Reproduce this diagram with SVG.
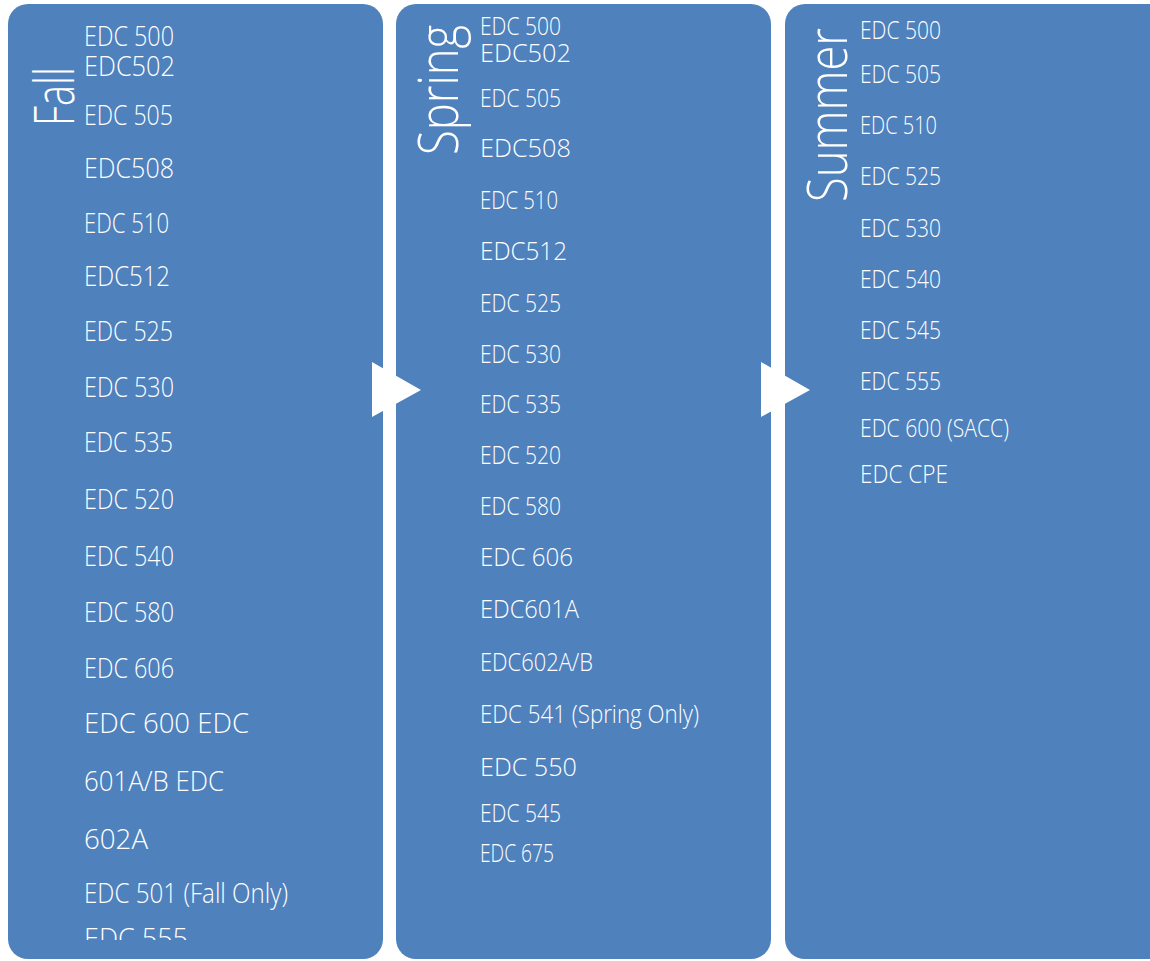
<svg xmlns="http://www.w3.org/2000/svg" width="1150" height="961" viewBox="0 0 1150 961">
<style>
.box{fill:#4F81BD}
.c{fill:#FFFFFF;font-family:"Open Sans","Noto Sans","Liberation Sans",sans-serif;font-size:28px;font-weight:300}
.s{font-size:26px}
.t{fill:#FFFFFF;font-family:"Open Sans","Noto Sans","Liberation Sans",sans-serif;font-size:56px;font-weight:300}
.arrow{fill:#FFFFFF}
</style>
<defs>
<clipPath id="fallClip"><rect x="8" y="4" width="375" height="936"/></clipPath>
</defs>
<rect x="0" y="0" width="1150" height="961" fill="#FFFFFF"/>
<g id="fall">
<rect class="box" x="8" y="4" width="375" height="955" rx="20"/>
<text class="t" transform="translate(74,126) rotate(-90)" textLength="59" lengthAdjust="spacingAndGlyphs">Fall</text>
<g clip-path="url(#fallClip)">
<text class="c" x="84" y="46" textLength="90" lengthAdjust="spacingAndGlyphs">EDC 500</text>
<text class="c" x="84" y="76" textLength="91" lengthAdjust="spacingAndGlyphs">EDC502</text>
<text class="c" x="84" y="125" textLength="89" lengthAdjust="spacingAndGlyphs">EDC 505</text>
<text class="c" x="84" y="178" textLength="90" lengthAdjust="spacingAndGlyphs">EDC508</text>
<text class="c" x="84" y="233" textLength="85" lengthAdjust="spacingAndGlyphs">EDC 510</text>
<text class="c" x="84" y="286" textLength="86" lengthAdjust="spacingAndGlyphs">EDC512</text>
<text class="c" x="84" y="341" textLength="89" lengthAdjust="spacingAndGlyphs">EDC 525</text>
<text class="c" x="84" y="397" textLength="90" lengthAdjust="spacingAndGlyphs">EDC 530</text>
<text class="c" x="84" y="452" textLength="89" lengthAdjust="spacingAndGlyphs">EDC 535</text>
<text class="c" x="84" y="509" textLength="90" lengthAdjust="spacingAndGlyphs">EDC 520</text>
<text class="c" x="84" y="566" textLength="90" lengthAdjust="spacingAndGlyphs">EDC 540</text>
<text class="c" x="84" y="622" textLength="90" lengthAdjust="spacingAndGlyphs">EDC 580</text>
<text class="c" x="84" y="678" textLength="90" lengthAdjust="spacingAndGlyphs">EDC 606</text>
<text class="c" x="84" y="733" textLength="165" lengthAdjust="spacingAndGlyphs">EDC 600 EDC</text>
<text class="c" x="84" y="791" textLength="140" lengthAdjust="spacingAndGlyphs">601A/B EDC</text>
<text class="c" x="84" y="849" textLength="64" lengthAdjust="spacingAndGlyphs">602A</text>
<text class="c" x="84" y="903" textLength="204" lengthAdjust="spacingAndGlyphs">EDC 501 (Fall Only)</text>
<text class="c" x="84" y="948" textLength="104" lengthAdjust="spacingAndGlyphs">EDC 555</text>
</g>
</g>
<g id="spring">
<rect class="box" x="396" y="4" width="375" height="955" rx="20"/>
<text class="t" transform="translate(458,155) rotate(-90)" textLength="130" lengthAdjust="spacingAndGlyphs">Spring</text>
<text class="c s" x="480" y="35" textLength="81" lengthAdjust="spacingAndGlyphs">EDC 500</text>
<text class="c s" x="480" y="62" textLength="91" lengthAdjust="spacingAndGlyphs">EDC502</text>
<text class="c s" x="480" y="107" textLength="81" lengthAdjust="spacingAndGlyphs">EDC 505</text>
<text class="c s" x="480" y="157" textLength="91" lengthAdjust="spacingAndGlyphs">EDC508</text>
<text class="c s" x="480" y="209" textLength="78" lengthAdjust="spacingAndGlyphs">EDC 510</text>
<text class="c s" x="480" y="260" textLength="87" lengthAdjust="spacingAndGlyphs">EDC512</text>
<text class="c s" x="480" y="312" textLength="81" lengthAdjust="spacingAndGlyphs">EDC 525</text>
<text class="c s" x="480" y="363" textLength="81" lengthAdjust="spacingAndGlyphs">EDC 530</text>
<text class="c s" x="480" y="413" textLength="81" lengthAdjust="spacingAndGlyphs">EDC 535</text>
<text class="c s" x="480" y="464" textLength="81" lengthAdjust="spacingAndGlyphs">EDC 520</text>
<text class="c s" x="480" y="515" textLength="81" lengthAdjust="spacingAndGlyphs">EDC 580</text>
<text class="c s" x="480" y="566" textLength="93" lengthAdjust="spacingAndGlyphs">EDC 606</text>
<text class="c s" x="480" y="618" textLength="99" lengthAdjust="spacingAndGlyphs">EDC601A</text>
<text class="c s" x="480" y="671" textLength="113" lengthAdjust="spacingAndGlyphs">EDC602A/B</text>
<text class="c s" x="480" y="723" textLength="219" lengthAdjust="spacingAndGlyphs">EDC 541 (Spring Only)</text>
<text class="c s" x="480" y="776" textLength="97" lengthAdjust="spacingAndGlyphs">EDC 550</text>
<text class="c s" x="480" y="822" textLength="81" lengthAdjust="spacingAndGlyphs">EDC 545</text>
<text class="c s" x="480" y="862" textLength="74" lengthAdjust="spacingAndGlyphs">EDC 675</text>
</g>
<g id="summer">
<rect class="box" x="785" y="4" width="400" height="955" rx="20"/>
<text class="t" transform="translate(847,202) rotate(-90)" textLength="174" lengthAdjust="spacingAndGlyphs">Summer</text>
<text class="c s" x="860" y="39" textLength="81" lengthAdjust="spacingAndGlyphs">EDC 500</text>
<text class="c s" x="860" y="83" textLength="81" lengthAdjust="spacingAndGlyphs">EDC 505</text>
<text class="c s" x="860" y="134" textLength="77" lengthAdjust="spacingAndGlyphs">EDC 510</text>
<text class="c s" x="860" y="185" textLength="81" lengthAdjust="spacingAndGlyphs">EDC 525</text>
<text class="c s" x="860" y="237" textLength="81" lengthAdjust="spacingAndGlyphs">EDC 530</text>
<text class="c s" x="860" y="288" textLength="81" lengthAdjust="spacingAndGlyphs">EDC 540</text>
<text class="c s" x="860" y="339" textLength="81" lengthAdjust="spacingAndGlyphs">EDC 545</text>
<text class="c s" x="860" y="390" textLength="81" lengthAdjust="spacingAndGlyphs">EDC 555</text>
<text class="c s" x="860" y="437" textLength="149" lengthAdjust="spacingAndGlyphs">EDC 600 (SACC)</text>
<text class="c s" x="860" y="483" textLength="88" lengthAdjust="spacingAndGlyphs">EDC CPE</text>
</g>
<g id="connectors">
<polygon class="arrow" points="372,362 421,390 372,417"/>
<polygon class="arrow" points="761,362 810,390 761,417"/>
</g>
</svg>
